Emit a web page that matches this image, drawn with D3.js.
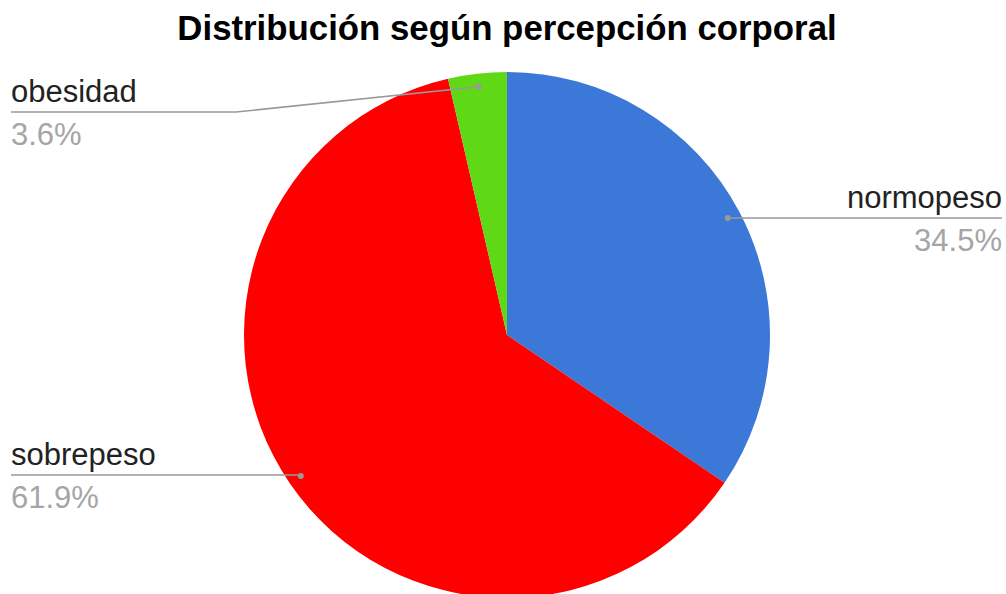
<!DOCTYPE html>
<html>
<head>
<meta charset="utf-8">
<script src="https://cdn.jsdelivr.net/npm/d3@7"></script>
<style>
  html, body { margin: 0; padding: 0; background: #fff; }
  svg { display: block; }
</style>
</head>
<body>
<div id="chart"></div>
<script>
const categories = ["normopeso", "sobrepeso", "obesidad"];
const values = [34.5, 61.9, 3.6];
const colors = ["#3c78d8", "#ff0000", "#5fd916"];
const title = "Distribución según percepción corporal";

const width = 1006, height = 594;
const cx = 507, cy = 335, radius = 263;
const font = "'Liberation Sans', Arial, sans-serif";

const svg = d3.select("#chart").append("svg")
  .attr("width", width)
  .attr("height", height);

svg.append("text")
  .attr("x", 507)
  .attr("y", 40)
  .attr("text-anchor", "middle")
  .style("font-family", font)
  .style("font-weight", "700")
  .style("font-size", "34.8px")
  .attr("fill", "#000")
  .text(title);

const data = categories.map((c, i) => ({ name: c, value: values[i], color: colors[i] }));

const pie = d3.pie().sort(null).value(d => d.value);
const arcs = pie(data);

const arc = d3.arc().innerRadius(0).outerRadius(radius);
const anchorArc = d3.arc().innerRadius(radius * 0.95).outerRadius(radius * 0.95);

const g = svg.append("g").attr("transform", `translate(${cx},${cy})`);

g.selectAll("path.slice")
  .data(arcs)
  .enter()
  .append("path")
    .attr("class", "slice")
    .attr("d", arc)
    .attr("fill", d => d.data.color);

// label layout per category
const labelSpec = {
  normopeso: { side: "right", lineY: 218, elbowX: null },
  sobrepeso: { side: "left",  lineY: 475, elbowX: null },
  obesidad:  { side: "left",  lineY: 112, elbowX: 236 }
};

const labels = svg.append("g");

arcs.forEach(a => {
  const spec = labelSpec[a.data.name];
  const [px, py] = anchorArc.centroid(a);
  const dotX = cx + px, dotY = cy + py;
  const endX = spec.side === "right" ? 1002 : 11;

  let pts;
  if (spec.elbowX !== null) {
    pts = [[dotX, dotY], [spec.elbowX, spec.lineY], [endX, spec.lineY]];
  } else {
    pts = [[dotX, dotY], [dotX, spec.lineY], [endX, spec.lineY]];
  }

  labels.append("path")
    .attr("d", d3.line()(pts))
    .attr("fill", "none")
    .attr("stroke", "#999")
    .attr("stroke-width", 1.5);

  labels.append("circle")
    .attr("cx", dotX)
    .attr("cy", dotY)
    .attr("r", 3)
    .attr("fill", "#999");

  const anchor = spec.side === "right" ? "end" : "start";

  labels.append("text")
    .attr("x", endX)
    .attr("y", spec.lineY - 10)
    .attr("text-anchor", anchor)
    .style("font-family", font)
    .style("font-size", "31px")
    .attr("fill", "#222")
    .text(a.data.name);

  labels.append("text")
    .attr("x", endX)
    .attr("y", spec.lineY + 33)
    .attr("text-anchor", anchor)
    .style("font-family", font)
    .style("font-size", "31px")
    .attr("fill", "#a5a5a5")
    .text(a.data.value.toFixed(1) + "%");
});
</script>
</body>
</html>
